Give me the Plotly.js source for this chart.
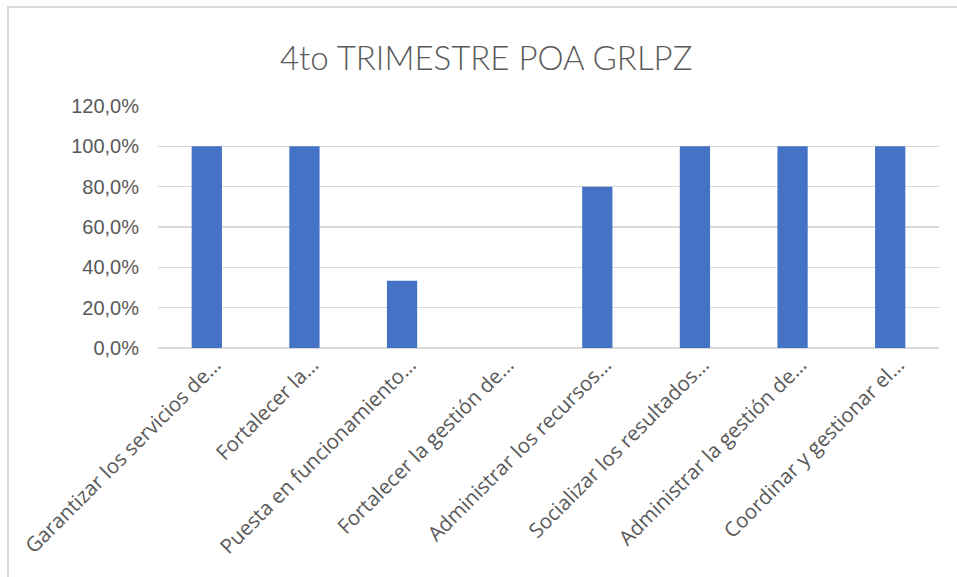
<!DOCTYPE html>
<html>
<head>
<meta charset="utf-8">
<script src="https://cdn.plot.ly/plotly-3.0.1.min.js"></script>
<style>
  html, body { margin: 0; padding: 0; background: #ffffff; overflow: hidden; width: 957px; height: 577px; }
  #chart { position: absolute; left: 0; top: 0; width: 957px; height: 577px; }
  #frame { position: absolute; left: 7px; top: 6px; width: 1000px; height: 1000px; border: 2px solid #d9d9d9; pointer-events: none; box-sizing: border-box; }
</style>
</head>
<body>
<div id="chart"></div>
<div id="frame"></div>
<script>
const chartTitle = "4to TRIMESTRE POA GRLPZ";
const categories = [
  "Garantizar los servicios de…",
  "Fortalecer la…",
  "Puesta en funcionamiento…",
  "Fortalecer la gestión de…",
  "Administrar los recursos…",
  "Socializar los resultados…",
  "Administrar la gestión de…",
  "Coordinar y gestionar el…"
];
const values = [1.0, 1.0, 0.333, 0.0, 0.8, 1.0, 1.0, 1.0];
const yTickVals = [0, 0.2, 0.4, 0.6, 0.8, 1.0, 1.2];

const textColor = "#595959";

const trace = {
  type: "bar",
  x: categories,
  y: values,
  marker: { color: "#4472C4" },
  hoverinfo: "x+y"
};

const layout = {
  width: 957,
  height: 577,
  margin: { l: 158, r: 18, t: 106, b: 229 },
  paper_bgcolor: "rgba(0,0,0,0)",
  plot_bgcolor: "#ffffff",
  separators: ",.",
  showlegend: false,
  bargap: 0.69,
  title: {
    text: chartTitle,
    font: { family: "Lato, sans-serif", size: 33, weight: 300, color: textColor },
    x: 0.508,
    xanchor: "center",
    xref: "container",
    y: 0.8995,
    yanchor: "middle",
    yref: "container"
  },
  xaxis: {
    type: "category",
    tickangle: -45,
    tickfont: { family: "Open Sans, sans-serif", size: 20.5, color: textColor },
    showgrid: false,
    showline: false,
    zeroline: false,
    ticks: "",
    ticklabelshift: 8,
    automargin: false
  },
  yaxis: {
    range: [0, 1.2],
    tickvals: yTickVals,
    tickformat: ".1%",
    tickfont: { family: "Liberation Sans, Arial, sans-serif", size: 20, color: textColor },
    showgrid: true,
    gridcolor: "#d9d9d9",
    gridwidth: 1.5,
    zeroline: true,
    zerolinecolor: "#d9d9d9",
    zerolinewidth: 1.5,
    showline: false,
    ticks: "",
    ticklabelstandoff: 18,
    automargin: false
  }
};

Plotly.newPlot("chart", [trace], layout, { displayModeBar: false, staticPlot: true });
</script>
</body>
</html>
